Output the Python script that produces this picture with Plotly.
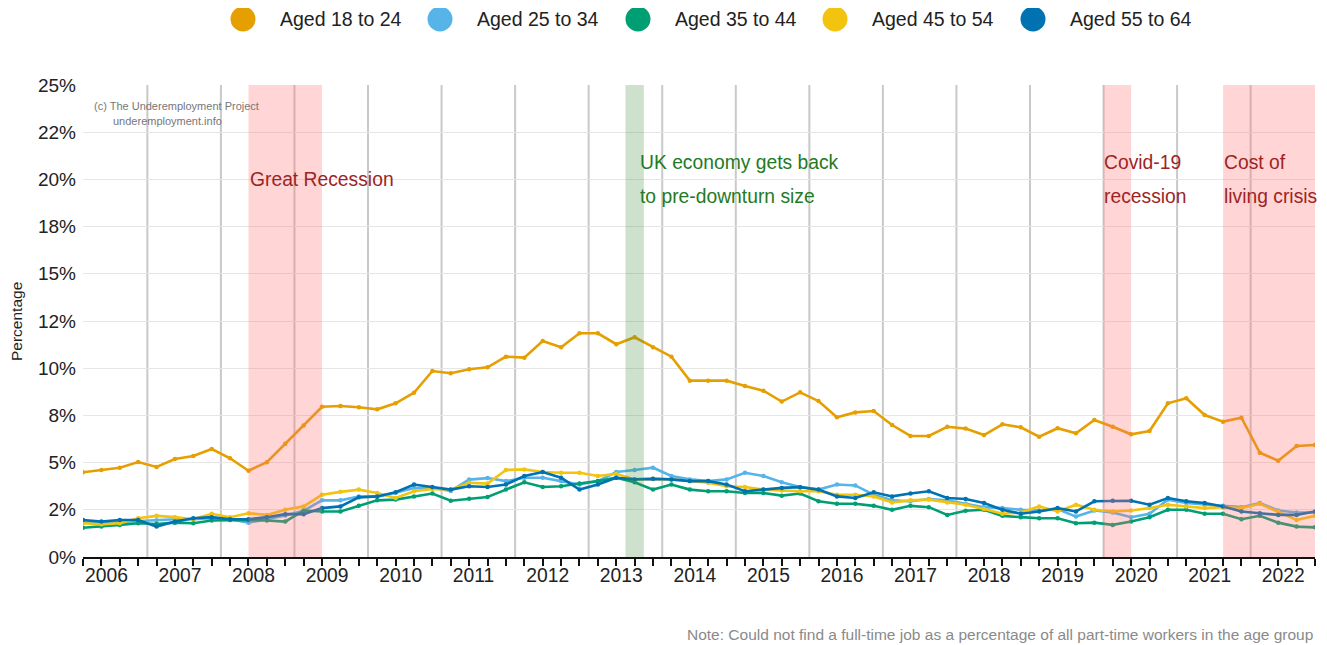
import plotly.graph_objects as go

# ---------------- data ----------------
quarters = [f"{y} Q{q}" for y in range(2006, 2023) for q in range(1, 5)][:68]

aged_18_24 = [4.49, 4.61, 4.73, 5.03, 4.77, 5.19, 5.35, 5.72, 5.23, 4.57,
              5.02, 6.00, 6.96, 7.96, 8.00, 7.93, 7.82, 8.14, 8.70, 9.85,
              9.73, 9.94, 10.05, 10.61, 10.56, 11.44, 11.11, 11.85, 11.85, 11.27,
              11.64, 11.11, 10.61, 9.34, 9.34, 9.34, 9.06, 8.81, 8.23, 8.72,
              8.26, 7.40, 7.66, 7.73, 6.99, 6.41, 6.41, 6.90, 6.80, 6.46,
              7.03, 6.87, 6.37, 6.82, 6.55, 7.26, 6.90, 6.50, 6.67, 8.14,
              8.41, 7.52, 7.17, 7.38, 5.52, 5.10, 5.88, 5.93]

aged_25_34 = [1.85, 1.80, 1.85, 1.90, 1.95, 2.00, 2.00, 2.05, 2.00, 1.82,
              2.00, 2.20, 2.45, 3.00, 3.00, 3.20, 3.20, 3.40, 3.65, 3.65,
              3.50, 4.10, 4.18, 4.02, 4.20, 4.20, 4.02, 3.84, 4.02, 4.50,
              4.61, 4.73, 4.29, 4.11, 4.02, 4.11, 4.46, 4.29, 3.96, 3.71,
              3.57, 3.84, 3.79, 3.30, 3.00, 2.95, 3.07, 3.00, 2.82, 2.64,
              2.59, 2.50, 2.46, 2.54, 2.14, 2.46, 2.36, 2.11, 2.29, 3.04,
              2.86, 2.77, 2.71, 2.64, 2.86, 2.46, 2.36, 2.36]

aged_35_44 = [1.55, 1.61, 1.70, 1.79, 1.75, 1.82, 1.79, 1.93, 1.96, 1.96,
              1.93, 1.875, 2.46, 2.41, 2.41, 2.71, 3.00, 3.04, 3.21, 3.36,
              2.98, 3.09, 3.18, 3.57, 3.96, 3.71, 3.75, 3.89, 4.02, 4.20,
              3.96, 3.57, 3.84, 3.57, 3.48, 3.48, 3.39, 3.39, 3.25, 3.36,
              2.95, 2.82, 2.82, 2.71, 2.50, 2.71, 2.64, 2.23, 2.45, 2.50,
              2.18, 2.11, 2.05, 2.05, 1.79, 1.82, 1.70, 1.875, 2.11, 2.50,
              2.50, 2.29, 2.29, 2.00, 2.18, 1.82, 1.61, 1.57]

aged_45_54 = [1.79, 1.73, 1.79, 2.05, 2.18, 2.11, 2.00, 2.29, 2.11, 2.32,
              2.23, 2.50, 2.68, 3.30, 3.45, 3.57, 3.39, 3.13, 3.48, 3.61,
              3.57, 3.93, 3.89, 4.61, 4.64, 4.50, 4.46, 4.46, 4.29, 4.41,
              4.11, 4.14, 4.11, 4.02, 3.93, 3.75, 3.71, 3.57, 3.52, 3.48,
              3.48, 3.30, 3.30, 3.21, 2.89, 3.00, 3.04, 2.89, 2.77, 2.54,
              2.29, 2.36, 2.68, 2.41, 2.77, 2.50, 2.41, 2.46, 2.59, 2.77,
              2.68, 2.59, 2.64, 2.59, 2.82, 2.41, 1.96, 2.18]

aged_55_64 = [1.96, 1.875, 1.96, 1.96, 1.61, 1.875, 2.05, 2.11, 2.00, 2.00,
              2.11, 2.27, 2.27, 2.59, 2.68, 3.16, 3.21, 3.43, 3.84, 3.71,
              3.57, 3.75, 3.71, 3.84, 4.29, 4.50, 4.20, 3.57, 3.84, 4.20,
              4.11, 4.14, 4.11, 4.02, 4.02, 3.84, 3.48, 3.57, 3.66, 3.70,
              3.57, 3.21, 3.125, 3.43, 3.21, 3.36, 3.48, 3.125, 3.07, 2.86,
              2.50, 2.29, 2.41, 2.59, 2.41, 2.95, 2.98, 2.98, 2.77, 3.125,
              2.95, 2.86, 2.68, 2.41, 2.32, 2.23, 2.23, 2.41]

series_names = ["Aged 18 to 24", "Aged 25 to 34", "Aged 35 to 44", "Aged 45 to 54", "Aged 55 to 64"]
series_values = [aged_18_24, aged_25_34, aged_35_44, aged_45_54, aged_55_64]
series_colors = ["#E69F00", "#56B4E9", "#009E73", "#F2C40F", "#0072B2"]

year_ticks = list(range(2006, 2023))
y_tickvals = [0, 2.5, 5, 7.5, 10, 12.5, 15, 17.5, 20, 22.5, 25]
y_ticktext = ["0%", "2%", "5%", "8%", "10%", "12%", "15%", "18%", "20%", "22%", "25%"]

# events: (start, end, kind)
event_bands = [(2008.25, 2009.25, "recession"), (2013.375, 2013.625, "recovery"),
               (2019.875, 2020.25, "recession"), (2021.5, 2022.75, "recession")]
event_labels = [
    (2008.25, ["Great Recession"], "recession"),
    (2013.55, ["UK economy gets back", "to pre-downturn size"], "recovery"),
    (2019.86, ["Covid-19", "recession"], "recession"),
    (2021.49, ["Cost of", "living crisis"], "recession"),
]
marker_lines = [y + 0.875 for y in range(2006, 2022)]

# ---------------- figure ----------------
def q_to_x(label):
    y, q = label.split(" Q")
    return int(y) + (int(q) - 1) / 4

x_vals = [q_to_x(q) for q in quarters]

fig = go.Figure()
for name, vals, col in zip(series_names, series_values, series_colors):
    fig.add_trace(go.Scatter(
        x=x_vals, y=vals, name=name, mode="lines+markers",
        line=dict(color=col, width=2.6),
        marker=dict(color=col, size=4.5),
        showlegend=False,
    ))

shapes = []
for xv in marker_lines:
    shapes.append(dict(type="line", xref="x", yref="paper", x0=xv, x1=xv, y0=0, y1=1,
                       line=dict(color="#C9C9C9", width=2), layer="below"))
band_fill = {"recession": "rgba(255,110,110,0.29)", "recovery": "rgba(60,140,60,0.26)"}
for x0, x1, kind in event_bands:
    shapes.append(dict(type="rect", xref="x", yref="paper", x0=x0, x1=x1, y0=0, y1=1,
                       fillcolor=band_fill[kind], line=dict(width=0), layer="above"))

annotations = []
text_col = {"recession": "#9E2424", "recovery": "#237A23"}
line_y = [20.87, 19.12]
for xv, lines, kind in event_labels:
    ys = [19.97] if len(lines) == 1 else line_y
    for t, yv in zip(lines, ys):
        annotations.append(dict(x=xv, y=yv, xref="x", yref="y", text=t, showarrow=False,
                                xanchor="left", yanchor="middle",
                                font=dict(size=19.3, color=text_col[kind])))

# watermark
annotations.append(dict(x=0.0075, y=0.9555, xref="paper", yref="paper",
                        text="(c) The Underemployment Project", showarrow=False,
                        xanchor="left", yanchor="middle", font=dict(size=11, color="#777777")))
annotations.append(dict(x=0.0230, y=0.9237, xref="paper", yref="paper",
                        text="underemployment.info", showarrow=False,
                        xanchor="left", yanchor="middle", font=dict(size=11, color="#777777")))
# note
annotations.append(dict(x=1.0, y=-0.165, xref="paper", yref="paper",
                        text="Note: Could not find a full-time job as a percentage of all part-time workers in the age group",
                        showarrow=False, xanchor="right", yanchor="middle",
                        font=dict(size=15.5, color="#8A8A8A")))
# y title
annotations.append(dict(x=-0.0535, y=0.498, xref="paper", yref="paper", text="Percentage",
                        textangle=-90, showarrow=False, xanchor="center", yanchor="middle",
                        font=dict(size=15.5, color="#222222")))

# custom legend (large circles)
plot_left, plot_w = 83, 1232
legend_circle_px = [243, 440, 638, 835, 1033]
legend_y = (557 - 19) / 472
for name, col, cx in zip(series_names, series_colors, legend_circle_px):
    xp = (cx - plot_left) / plot_w
    shapes.append(dict(type="circle", xref="paper", yref="paper",
                       xsizemode="pixel", ysizemode="pixel", xanchor=xp, yanchor=legend_y,
                       x0=-12.5, x1=12.5, y0=-12.5, y1=12.5,
                       fillcolor=col, line=dict(width=0), layer="above"))
    annotations.append(dict(x=(cx + 35 - plot_left) / plot_w, y=legend_y, xref="paper", yref="paper",
                            text=name, showarrow=False, xanchor="left", yanchor="middle",
                            font=dict(size=19.5, color="#222222")))

# the page body has an 8px margin, so the figure is sized/offset to compensate
fig.update_layout(
    width=1319, height=637,
    margin=dict(l=75, r=12, t=77, b=88),
    paper_bgcolor="white", plot_bgcolor="white",
    font=dict(family="Liberation Sans, Arial, sans-serif", color="#222222"),
    shapes=shapes, annotations=annotations,
    showlegend=False,
    xaxis=dict(
        range=[2006, 2022.75], tickmode="array", tickvals=year_ticks,
        ticktext=[str(y) for y in year_ticks],
        ticklabelposition="outside right",
        ticks="outside", ticklen=7, tickwidth=2, tickcolor="#111111",
        minor=dict(tickmode="linear", tick0=2006, dtick=0.25, ticks="outside",
                   ticklen=7, tickwidth=2, tickcolor="#111111", showgrid=False),
        showline=True, linecolor="#111111", linewidth=2,
        showgrid=False, zeroline=False,
        tickfont=dict(size=19.3, color="#222222"),
    ),
    yaxis=dict(
        range=[0, 25], tickmode="array", tickvals=y_tickvals, ticktext=y_ticktext,
        showgrid=True, gridcolor="#E6E6E6", gridwidth=1,
        zeroline=False, showline=False, ticks="",
        tickfont=dict(size=19, color="#222222"),
        ticklabelstandoff=6,
    ),
)

fig.write_html("out.html")
